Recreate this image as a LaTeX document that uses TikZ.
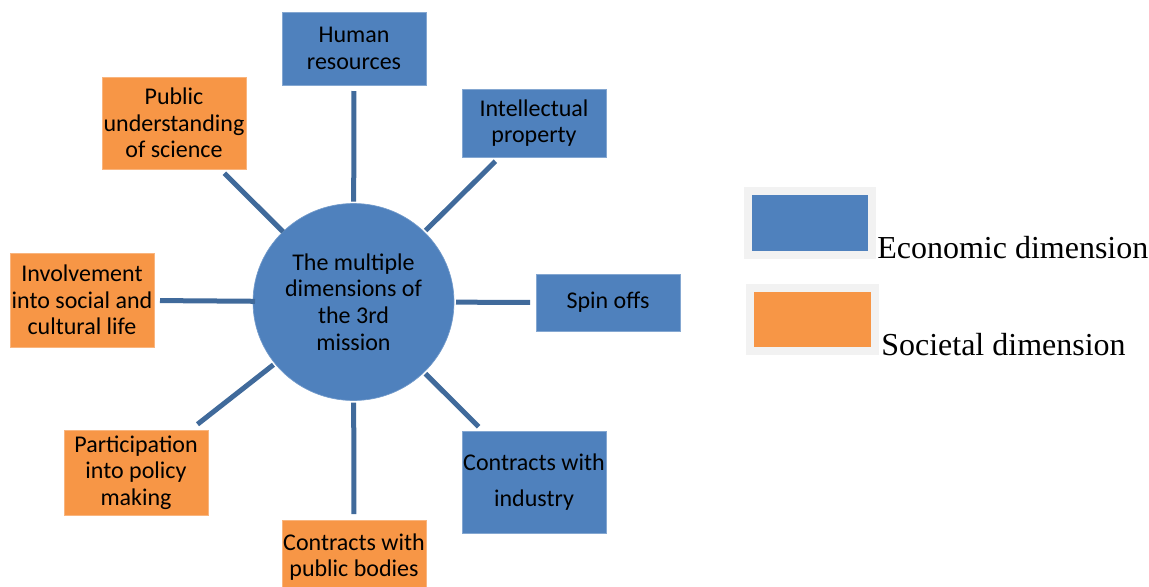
\documentclass[tikz,border=0pt]{standalone}
\usepackage{fontspec}
\setmainfont{Carlito}
\newfontfamily\legendfont{Liberation Serif}
\usetikzlibrary{shapes.geometric}
\definecolor{ecoblue}{RGB}{79,129,189}
\definecolor{socorange}{RGB}{247,150,70}
\definecolor{linkblue}{RGB}{64,106,155}
\definecolor{legendgray}{RGB}{242,242,242}
\begin{document}
\begin{tikzpicture}[x=0.75pt,y=-0.75pt,
 box/.style={rectangle, minimum width=108pt, inner sep=0pt, outer sep=0pt, align=center, text=black, font=\fontsize{18pt}{19.9pt}\selectfont},
 eco/.style={box, fill=ecoblue, draw=ecoblue!70!white, line width=0.5pt},
 soc/.style={box, fill=socorange, draw=socorange!70!white, line width=0.5pt},
 hub/.style={ellipse, minimum width=150.75pt, minimum height=147.75pt, inner sep=0pt, outer sep=0pt, fill=ecoblue, draw=ecoblue!80!white, line width=0.5pt, align=center, text=black, font=\fontsize{18pt}{19.9pt}\selectfont},
 link/.style={draw=linkblue, line width=3.75pt, shorten <=1.5pt, shorten >=4.5pt},
 swatch/.style={rectangle, inner sep=0pt, outer sep=0pt, draw=legendgray, line width=6pt},
 legendtext/.style={anchor=base west, inner sep=0pt, text=black, font=\legendfont\fontsize{24pt}{28pt}\selectfont}
]
\useasboundingbox (0,0) rectangle (1149,586);

\node[hub] (c) at (353.5,302) {The multiple\\dimensions of\\the 3rd\\mission};

\node[eco, minimum height=54.75pt] (hr) at (354,48.5) {Human\\resources};
\node[eco, minimum height=51pt] (ip) at (534,123) {Intellectual\\property};
\node[eco, minimum height=42.75pt] (so) at (608,302.5) {Spin offs};
\node[eco, minimum height=76.5pt, font=\fontsize{18pt}{27pt}\selectfont] (ci) at (534,482) {Contracts with\\industry};
\node[soc, minimum height=55.5pt] (pb) at (354,557) {Contracts with\\public bodies};
\node[soc, minimum height=63.75pt] (pp) at (136,472.5) {Participation\\into policy\\making};
\node[soc, minimum height=70.5pt] (is) at (82,300) {Involvement\\into social and\\cultural life};
\node[soc, minimum height=69pt] (pu) at (174,123) {Public\\understanding\\of science};

\draw[link] (c) -- (hr);
\draw[link] (c) -- (ip);
\draw[link] (c) -- (so);
\draw[link] (c) -- (ci);
\draw[link] (c) -- (pb);
\draw[link, shorten >=7pt] (c) -- (pp);
\draw[link, shorten <=-1.5pt] (c) -- (is);
\draw[link, shorten <=0pt] (c) -- (pu);

\node[swatch, fill=ecoblue, minimum width=93pt, minimum height=48pt] (legeco) at (810,223) {};
\node[swatch, fill=socorange, minimum width=93.75pt, minimum height=47.25pt] (legsoc) at (812.5,319.5) {};
\node[legendtext] (legecotext) at (877,258) {Economic dimension};
\node[legendtext] (legsoctext) at (881,355) {Societal dimension};
\end{tikzpicture}
\end{document}
